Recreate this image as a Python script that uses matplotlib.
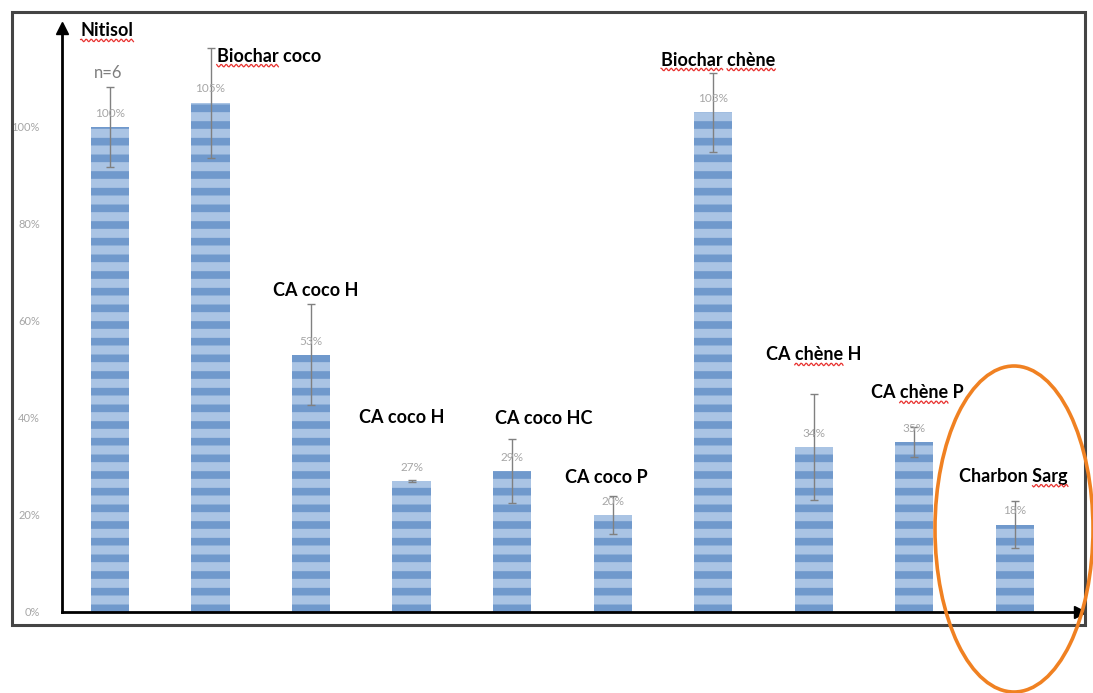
import matplotlib.pyplot as plt
import numpy as np
from matplotlib.patches import Ellipse, Rectangle

plt.rcParams["font.family"] = ["Lato", "DejaVu Sans"]
plt.rcParams["hatch.linewidth"] = 5.5

categories = ["Nitisol", "Biochar coco", "CA coco H", "CA coco H", "CA coco HC",
              "CA coco P", "Biochar chène", "CA chène H", "CA chène P", "Charbon Sarg"]
values = [100, 105, 53, 27, 29, 20, 103, 34, 35, 18]
errors = [8.3, 11.3, 10.4, 0.3, 6.6, 4.0, 8.2, 10.9, 3.1, 4.8]
yticks = [0, 20, 40, 60, 80, 100]

# where each name sits (bar units, percent)
name_pos = [(-0.03, 119.8), (1.58, 114.6), (2.05, 66.2), (2.90, 40.0), (4.31, 39.8),
            (4.94, 27.8), (6.05, 113.8), (7.00, 53.0), (8.03, 45.2), (8.99, 28.0)]
# words with a spell-check squiggle under them
flagged = {"Nitisol": ["Nitisol"], "Biochar coco": ["Biochar"],
           "Biochar chène": ["Biochar", "chène"], "CA chène H": ["chène"],
           "CA chène P": ["chène"], "Charbon Sarg": ["Sarg"]}
name_size = 13

W, H = 1093, 693
fig = plt.figure(figsize=(W / 100, H / 100), dpi=100)
ax = fig.add_axes([62 / W, 1 - 612 / H, (1080 - 62) / W, (612 - 28) / H])

x = np.arange(len(values))
ax.bar(x, values, width=0.38, color="#aac4e4", edgecolor="#7099cc",
       linewidth=0, hatch="-", zorder=2)
ax.errorbar(x, values, yerr=errors, fmt="none", ecolor="#808080",
            elinewidth=1, capsize=3, capthick=1, zorder=3)

for xi, v in zip(x, values):
    ax.annotate(f"{v}%", (xi, v), xytext=(0, 10), textcoords="offset points",
                ha="center", va="center", fontsize=8.5, color="#a6a6a6")

ax.set_xlim(-0.478, 9.65)
ax.set_ylim(0, 120.4)
ax.set_yticks(yticks)
ax.set_yticklabels([f"{t}%" for t in yticks], fontsize=8, color="#a6a6a6")
ax.set_xticks([])
ax.tick_params(axis="y", length=0, pad=16)
for side in ["top", "right"]:
    ax.spines[side].set_visible(False)
for side in ["left", "bottom"]:
    ax.spines[side].set_linewidth(2)
ax.plot(1, 0, ">k", ms=8, transform=ax.transAxes, clip_on=False)
ax.plot(0, 1, "^k", ms=8, transform=ax.transAxes, clip_on=False)

ax.text(-0.02, 111.1, "n=6", ha="center", va="center", fontsize=12, color="#7f7f7f")

texts = []
for name, (px, py) in zip(categories, name_pos):
    t = ax.text(px, py, name, ha="center", va="center", fontsize=name_size,
                fontweight="bold", color="black", clip_on=False)
    texts.append(t)

# red wavy underlines
fig.canvas.draw()
renderer = fig.canvas.get_renderer()
for t in texts:
    s = t.get_text()
    if s not in flagged:
        continue
    bb = t.get_window_extent(renderer)
    for word in flagged[s]:
        start = s.index(word)
        pre = fig.text(0, 0, s[:start], fontsize=name_size, fontweight="bold")
        wd = fig.text(0, 0, word, fontsize=name_size, fontweight="bold")
        x0 = bb.x0 + (pre.get_window_extent(renderer).width if start else 0)
        wlen = wd.get_window_extent(renderer).width
        pre.remove()
        wd.remove()
        xs = np.linspace(x0, x0 + wlen, int(wlen))
        ys = bb.y0 - 1 + 1.3 * np.sin(xs * 2 * np.pi / 5)
        fig.add_artist(plt.Line2D(xs / W, ys / H, color="#e8322f", lw=0.9,
                                  transform=fig.transFigure))

# outer frame and highlight ring
fig.add_artist(Rectangle((12 / W, 1 - 625 / H), (1085 - 12) / W, (625 - 12) / H,
                         transform=fig.transFigure, fill=False,
                         edgecolor="#444444", lw=2.2))
fig.add_artist(Ellipse((1014 / W, 1 - 529 / H), 158 / W, 326 / H,
                       transform=fig.transFigure, fill=False,
                       edgecolor="#f08122", lw=2.6, zorder=10))

fig.savefig("out.png", dpi=100)
